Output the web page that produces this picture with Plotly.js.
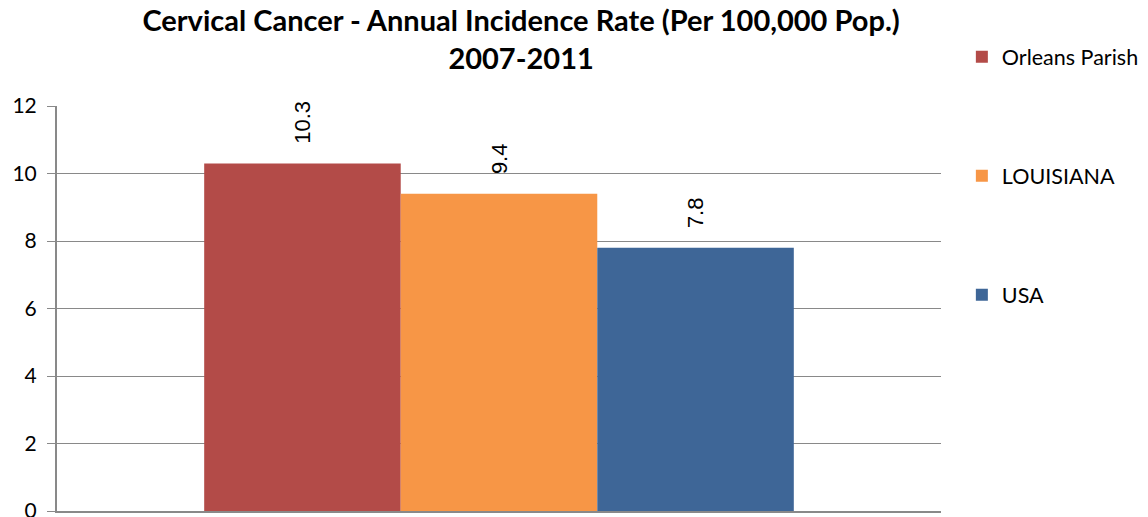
<!DOCTYPE html>
<html>
<head>
<meta charset="utf-8">
<script src="https://cdn.plot.ly/plotly-3.0.1.min.js"></script>
<style>html,body{margin:0;padding:0;background:#fff;}#chart{width:1148px;height:517px;}</style>
</head>
<body>
<div id="chart"></div>
<script>
const category = ['Cervical Cancer'];
const seriesNames = ['Orleans Parish', 'LOUISIANA', 'USA'];
const seriesValues = [[10.3], [9.4], [7.8]];
const seriesColors = ['#B34B48', '#F79646', '#3E6697'];
const titleText = 'Cervical Cancer - Annual Incidence Rate (Per 100,000 Pop.)<br>2007-2011';

const traces = seriesNames.map((name, i) => ({
  type: 'bar',
  name: name,
  x: category,
  y: seriesValues[i],
  marker: {color: seriesColors[i], line: {width: 0}},
  legendgroup: 'g' + i,
  text: seriesValues[i].map(v => v.toFixed(1)),
  texttemplate: '\u00a0\u00a0\u2009%{text}',
  textposition: 'outside',
  textangle: -90,
  textfont: {family: 'Liberation Sans, Arial, sans-serif', size: 22, color: '#000'},
  cliponaxis: false,
  hoverinfo: 'name+y'
}));

const layout = {
  width: 1148,
  height: 517,
  margin: {l: 57, r: 207, t: 106, b: 6, pad: 0, autoexpand: false},
  paper_bgcolor: '#fff',
  plot_bgcolor: '#fff',
  font: {family: 'Lato, Open Sans, sans-serif', color: '#000'},
  title: {
    text: titleText,
    font: {family: 'Lato, Open Sans, sans-serif', size: 29, color: '#000', weight: 'bold'},
    xref: 'paper', x: 0.525, xanchor: 'center',
    yref: 'container', y: 0.94, yanchor: 'middle'
  },
  barmode: 'group',
  bargap: 0.333,
  bargroupgap: 0,
  showlegend: true,
  legend: {
    x: 1.0236, xanchor: 'left', xref: 'paper',
    y: 1.172, yanchor: 'top', yref: 'paper',
    traceorder: 'grouped',
    tracegroupgap: 88,
    maxheight: 517,
    font: {family: 'Lato, Open Sans, sans-serif', size: 21.5, color: '#000'},
    bgcolor: 'rgba(0,0,0,0)',
    borderwidth: 0
  },
  xaxis: {
    type: 'category',
    showticklabels: false,
    showgrid: false,
    showline: true,
    linecolor: '#898989',
    linewidth: 2,
    ticks: '',
    zeroline: false,
    fixedrange: true
  },
  yaxis: {
    range: [0, 12],
    dtick: 2,
    tick0: 0,
    showgrid: true,
    gridcolor: '#898989',
    gridwidth: 1,
    showline: true,
    linecolor: '#898989',
    linewidth: 2,
    ticks: 'outside',
    ticklen: 8,
    tickcolor: '#898989',
    tickwidth: 1,
    ticklabelstandoff: 6,
    ticklabeloverflow: 'allow',
    tickfont: {family: 'Lato, Open Sans, sans-serif', size: 21, color: '#000'},
    zeroline: false,
    fixedrange: true
  }
};

Plotly.newPlot('chart', traces, layout, {displayModeBar: false, staticPlot: true});
</script>
</body>
</html>
